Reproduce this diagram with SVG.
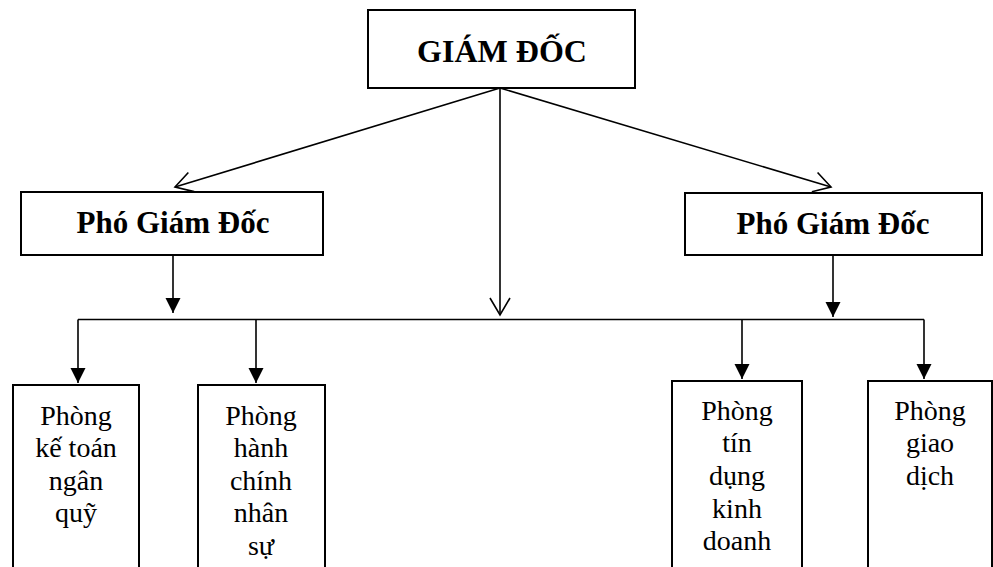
<svg xmlns="http://www.w3.org/2000/svg" width="993" height="567" viewBox="0 0 993 567">
<style>
.box{fill:#fff;stroke:#000;stroke-width:2}
.ln{fill:none;stroke:#000;stroke-width:1.6}
.bt{font-family:"Liberation Serif","Times New Roman",serif;font-weight:bold;text-anchor:middle;fill:#000}
.rt{font-family:"Liberation Serif","Times New Roman",serif;font-size:28px;text-anchor:middle;fill:#000}
</style>
<defs>
<marker id="fa" markerUnits="userSpaceOnUse" markerWidth="16" markerHeight="16" viewBox="0 0 16 16" refX="15" refY="8" orient="auto"><path d="M0,0.5 L15,8 L0,15.5 Z" fill="#000"/></marker>
<marker id="oa" markerUnits="userSpaceOnUse" markerWidth="22" markerHeight="24" viewBox="0 0 22 24" refX="19" refY="12" orient="auto"><path d="M2,2 L19,12 L2,22" fill="none" stroke="#000" stroke-width="1.6"/></marker>
</defs>
<g id="connectors">
<line class="ln" x1="500" y1="88" x2="175" y2="187" marker-end="url(#oa)"/>
<line class="ln" x1="500" y1="88" x2="831" y2="187" marker-end="url(#oa)"/>
<line class="ln" x1="500" y1="88" x2="500" y2="315" marker-end="url(#oa)"/>
<line class="ln" x1="173" y1="255" x2="173" y2="313" marker-end="url(#fa)"/>
<line class="ln" x1="833" y1="255" x2="833" y2="317" marker-end="url(#fa)"/>
<line class="ln" x1="78" y1="319.5" x2="924" y2="319.5"/>
<line class="ln" x1="78" y1="319.5" x2="78" y2="383" marker-end="url(#fa)"/>
<line class="ln" x1="256" y1="319.5" x2="256" y2="383" marker-end="url(#fa)"/>
<line class="ln" x1="742" y1="319.5" x2="742" y2="379" marker-end="url(#fa)"/>
<line class="ln" x1="924" y1="319.5" x2="924" y2="379" marker-end="url(#fa)"/>
</g>
<g id="giamdoc">
<rect class="box" x="368" y="10" width="267" height="78"/>
<text class="bt" x="502" y="62" font-size="32">GIÁM ĐỐC</text>
</g>
<g id="pgd-left">
<rect class="box" x="21" y="192" width="302" height="63"/>
<text class="bt" x="173" y="233" font-size="31">Phó Giám Đốc</text>
</g>
<g id="pgd-right">
<rect class="box" x="685" y="193" width="297" height="62"/>
<text class="bt" x="833" y="234" font-size="31">Phó Giám Đốc</text>
</g>
<g id="ketoan">
<rect class="box" x="13" y="385" width="126" height="190"/>
<text class="rt" x="76" y="425">Phòng</text>
<text class="rt" x="76" y="457">kế toán</text>
<text class="rt" x="76" y="490">ngân</text>
<text class="rt" x="76" y="522">quỹ</text>
</g>
<g id="hanhchinh">
<rect class="box" x="198" y="385" width="127" height="190"/>
<text class="rt" x="261" y="425">Phòng</text>
<text class="rt" x="261" y="457">hành</text>
<text class="rt" x="261" y="490">chính</text>
<text class="rt" x="261" y="522">nhân</text>
<text class="rt" x="261" y="555">sự</text>
</g>
<g id="tindung">
<rect class="box" x="672" y="381" width="130" height="194"/>
<text class="rt" x="737" y="420">Phòng</text>
<text class="rt" x="737" y="452">tín</text>
<text class="rt" x="737" y="485">dụng</text>
<text class="rt" x="737" y="518">kinh</text>
<text class="rt" x="737" y="550">doanh</text>
</g>
<g id="giaodich">
<rect class="box" x="868" y="381" width="124" height="194"/>
<text class="rt" x="930" y="420">Phòng</text>
<text class="rt" x="930" y="452">giao</text>
<text class="rt" x="930" y="485">dịch</text>
</g>
</svg>
